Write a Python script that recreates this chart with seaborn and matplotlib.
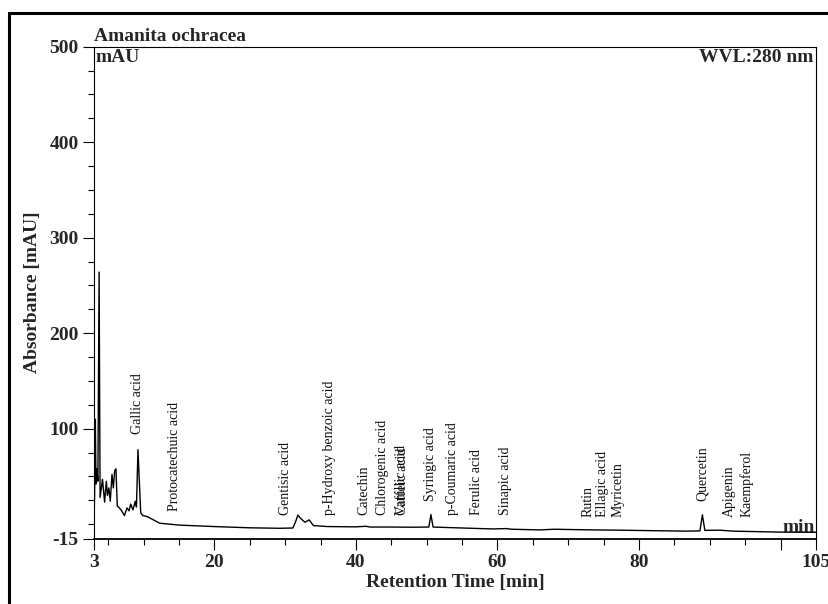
import pandas as pd
import seaborn as sns
import matplotlib.pyplot as plt
from matplotlib.patches import Rectangle
from matplotlib.ticker import FixedLocator

# chromatogram trace
retention_time = [3.0, 3.08, 3.19, 3.28, 3.4, 3.55, 3.72, 3.86, 4.2, 4.5, 4.74, 4.9, 5.1, 5.3,
                  5.54, 5.73, 5.92, 6.1, 6.29, 6.6, 6.9, 7.3, 7.66, 7.95, 8.18, 8.5, 8.83, 9.0,
                  9.21, 9.6, 9.9, 10.5, 12.3, 15.1, 20, 25, 29.3, 31.1, 31.5, 31.8, 32.2, 32.8,
                  33.4, 34.0, 36, 40, 41.4, 42, 45, 48, 50.3, 50.6, 50.9, 55, 59.4, 61.2, 62,
                  66, 68, 72.6, 77.3, 82, 86.7, 88.6, 88.95, 89.3, 91.4, 93.3, 99.9, 105]
absorbance = [2, 30, 110, 42, 58, 45, 264, 28, 47, 23, 45, 30, 38, 24,
              52, 38, 56, 58, 19, 17, 14, 9, 17, 14, 21, 15, 24, 18,
              78, 12, 9, 8, 1, -1, -2.5, -3.8, -4.3, -4, 3, 9.5, 6, 2,
              4.5, -1.5, -2.5, -2.8, -2.2, -3, -3, -3.2, -3, 10, -3, -4, -5, -4.6, -5.3,
              -6, -5.3, -5.9, -6.3, -6.8, -7.3, -7, 9.8, -6.5, -6.3, -7.3, -8.3, -8.5]

# peak annotations: name, retention time, label bottom (mAU)
peak_names = ["Gallic acid", "Protocatechuic acid", "Gentisic acid", "p-Hydroxy benzoic acid",
              "Catechin", "Chlorogenic acid", "Vanillic acid", "Caffeic acid", "Syringic acid",
              "p-Coumaric acid", "Ferulic acid", "Sinapic acid", "Rutin", "Ellagic acid",
              "Myricetin", "Quercetin", "Apigenin", "Kaempferol"]
peak_times = [9.2, 14.4, 30.0, 36.3, 41.1, 43.7, 46.5, 46.6, 50.5, 53.7, 57.1, 61.2,
              72.8, 74.9, 77.0, 88.9, 92.8, 95.2]
label_levels = [94, 14, 10, 10, 10, 10, 10, 10, 24, 10, 10, 10, 7, 7, 7, 24, 7, 7]

x_major = [3, 20, 40, 60, 80, 100, 105]
x_labels = ["3", "20", "40", "60", "80", "", "105"]
y_major = [-15, 100, 200, 300, 400, 500]

df = pd.DataFrame({"time": retention_time, "mAU": absorbance})

sns.set_theme(style="ticks")
plt.rcParams["font.family"] = ["Liberation Serif", "DejaVu Serif"]
plt.rcParams["axes.unicode_minus"] = False

fig = plt.figure(figsize=(8.29, 6.04), dpi=100)
ax = fig.add_axes([94 / 829, 1 - 538.5 / 604, (816 - 94) / 829, (538.5 - 46.7) / 604])

sns.lineplot(data=df, x="time", y="mAU", color="black", lw=1.0, ax=ax, sort=False)

ax.set_xlim(3, 105)
ax.set_ylim(-15, 500)

ax.xaxis.set_major_locator(FixedLocator(x_major))
ax.set_xticklabels(x_labels)
ax.xaxis.set_minor_locator(FixedLocator([t for t in range(5, 101, 5) if t not in x_major]))
ax.yaxis.set_major_locator(FixedLocator(y_major))
ax.yaxis.set_minor_locator(FixedLocator([v for v in range(0, 500, 25) if v not in y_major]))

ax.tick_params(which="major", direction="out", length=8, width=0.8, color="black",
               labelsize=14, pad=3)
ax.tick_params(which="minor", direction="out", length=4, width=0.8, color="black")
for lab in ax.get_xticklabels() + ax.get_yticklabels():
    lab.set_fontweight("bold")

for s in ax.spines.values():
    s.set_visible(True)
    s.set_linewidth(0.8)
    s.set_color("black")
ax.spines["bottom"].set_linewidth(1.3)

ax.set_xlabel("Retention Time [min]", fontsize=14, fontweight="bold", labelpad=2)
ax.set_ylabel("Absorbance [mAU]", fontsize=14, fontweight="bold", labelpad=6)

# corner texts
ax.text(0.0, 1.003, "Amanita ochracea", transform=ax.transAxes, ha="left", va="bottom",
        fontsize=14, fontweight="bold")
ax.text(0.002, 0.995, "mAU", transform=ax.transAxes, ha="left", va="top",
        fontsize=14, fontweight="bold")
ax.text(0.996, 0.995, "WVL:280 nm", transform=ax.transAxes, ha="right", va="top",
        fontsize=14, fontweight="bold")
ax.text(0.998, 0.006, "min", transform=ax.transAxes, ha="right", va="bottom",
        fontsize=14, fontweight="bold")

# peak labels (Vanillic and Caffeic acid sit on top of each other, as in the original)
for name, t, lvl in zip(peak_names, peak_times, label_levels):
    ax.text(t, lvl, name, rotation=90, ha="center", va="bottom", fontsize=10, color="#111111")

# outer frame of the original figure (only left and top edges visible)
fig.patches.append(Rectangle((9 / 829, -0.2), 2, 1.2 - 12.5 / 604, transform=fig.transFigure,
                             fill=False, lw=2.2, edgecolor="black"))

fig.savefig("out.png", dpi=100)
